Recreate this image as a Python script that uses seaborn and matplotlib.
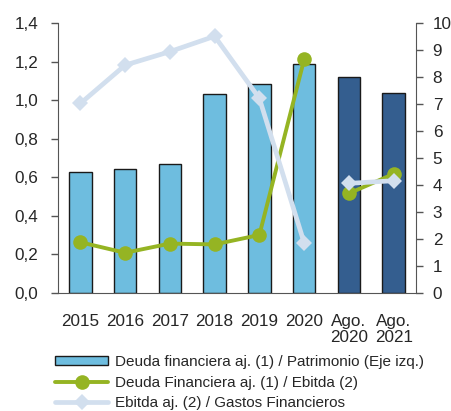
import numpy as np
import pandas as pd
import matplotlib
matplotlib.use("Agg")
import matplotlib.pyplot as plt
import seaborn as sns
from matplotlib.patches import Patch
from matplotlib.lines import Line2D

# data
periodos = ["2015", "2016", "2017", "2018", "2019", "2020", "Ago.\n2020", "Ago.\n2021"]
deuda_patrimonio = [0.63, 0.643, 0.669, 1.03, 1.084, 1.19, 1.12, 1.039]
deuda_ebitda = [1.88, 1.49, 1.83, 1.80, 2.15, 8.65, 3.69, 4.41]
ebitda_gastos = [7.02, 8.44, 8.94, 9.51, 7.21, 1.86, 4.06, 4.16]
tipo = ["anual"] * 6 + ["parcial"] * 2

sns.set_style("white")
plt.rcParams["font.family"] = ["Liberation Sans", "DejaVu Sans"]
plt.rcParams["font.size"] = 12.3

fig = plt.figure(figsize=(4.51, 4.11), dpi=100)
ax = fig.add_axes([0.1286, 0.2871, 0.7938, 0.6569])

df = pd.DataFrame({"periodo": periodos, "valor": deuda_patrimonio, "tipo": tipo})
sns.barplot(data=df, x="periodo", y="valor", hue="tipo", dodge=False,
            palette={"anual": "#6EBDDF", "parcial": "#345E8F"}, saturation=1,
            width=0.5, edgecolor="#1a1a1a", linewidth=1.0, ax=ax, legend=False)

ax.set_ylim(0, 1.4)
ax.set_yticks(np.arange(0, 1.41, 0.2))
ax.set_yticklabels([f"{v:.1f}".replace(".", ",") for v in np.arange(0, 1.41, 0.2)])
ax.set_xlim(-0.5, len(periodos) - 0.5)
ax.set_xlabel("")
ax.set_ylabel("")

# x ticks at category boundaries, labels centred via minor ticks
ax.set_xticks(np.arange(-0.5, len(periodos), 1.0))
ax.set_xticklabels([])
ax.set_xticks(np.arange(len(periodos)), minor=True)
ax.set_xticklabels(periodos, minor=True, linespacing=1.1)
ax.tick_params(axis="x", which="major", direction="out", length=5, color="#555555", width=1)
ax.tick_params(axis="x", which="minor", length=0, pad=15)
ax.tick_params(axis="y", direction="out", length=5, color="#555555", width=1, pad=9)

for s in ["top", "right"]:
    ax.spines[s].set_visible(False)
for s in ["left", "bottom"]:
    ax.spines[s].set_color("#555555")

ax2 = ax.twinx()
ax2.set_ylim(0, 10)
ax2.set_yticks(range(0, 11))
ax2.tick_params(axis="y", direction="out", length=5, color="#555555", width=1, pad=7)
for s in ["top", "left", "bottom"]:
    ax2.spines[s].set_visible(False)
ax2.spines["right"].set_color("#555555")

x = np.arange(len(periodos))
lines = pd.DataFrame({"x": x, "de": deuda_ebitda, "eg": ebitda_gastos,
                      "tramo": ["a"] * 6 + ["b"] * 2})
for tramo, sub in lines.groupby("tramo"):
    sns.lineplot(data=sub, x="x", y="de", ax=ax2, color="#95B423", lw=2.8,
                 marker="o", markersize=10.5, markeredgewidth=0, zorder=3)
    sns.lineplot(data=sub, x="x", y="eg", ax=ax2, color="#D2DFEE", lw=3.4,
                 marker="D", markersize=8.5, markeredgewidth=0, zorder=4)
ax2.set_xlabel("")
ax2.set_ylabel("")
ax2.set_xlim(-0.5, len(periodos) - 0.5)

handles = [
    Patch(facecolor="#6EBDDF", edgecolor="#1a1a1a", linewidth=1.0),
    Line2D([], [], color="#95B423", lw=2.8, marker="o", markersize=10.5, markeredgewidth=0),
    Line2D([], [], color="#D2DFEE", lw=3.4, marker="D", markersize=8.5, markeredgewidth=0),
]
labels = ["Deuda financiera aj. (1) / Patrimonio (Eje izq.)",
          "Deuda Financiera aj. (1) / Ebitda (2)",
          "Ebitda aj. (2) / Gastos Financieros"]
fig.legend(handles, labels, loc="upper left", bbox_to_anchor=(0.122, 0.137),
           frameon=False, handlelength=3.5, handleheight=0.55, labelspacing=0.45,
           handletextpad=0.45, borderaxespad=0, borderpad=0, fontsize=11)

fig.savefig("out.png", dpi=100)
